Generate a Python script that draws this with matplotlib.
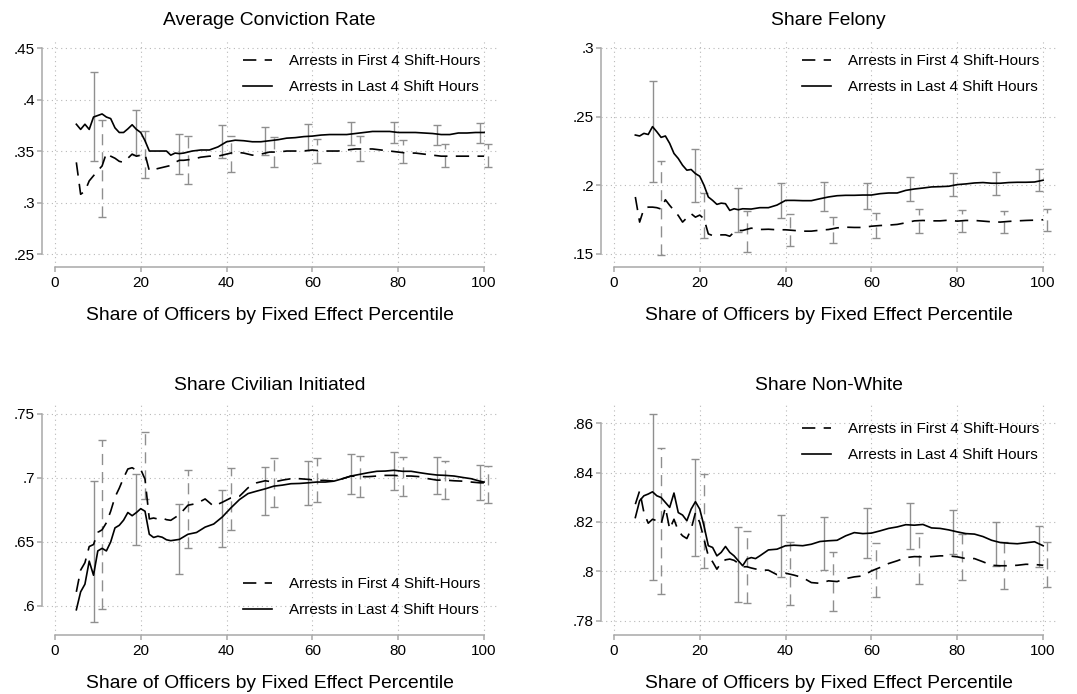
import matplotlib
matplotlib.use("Agg")
import matplotlib.pyplot as plt

plt.rcParams['font.family'] = ['Liberation Sans', 'DejaVu Sans']

# percentile grid for the running means
conv_x = list(range(5, 31)) + list(range(32, 101, 2))
fel_x = conv_x
civ_x = list(range(5, 28)) + list(range(29, 100, 2)) + [100]
nw_x = list(range(5, 35)) + list(range(36, 101, 2))

# confidence interval positions (offset so the two series don't overlap)
ci_x_last = [9, 19, 29, 39, 49, 59, 69, 79, 89, 99]
ci_x_first = [11, 21, 31, 41, 51, 61, 71, 81, 91, 101]

legend_labels = ["Arrests in First 4 Shift-Hours", "Arrests in Last 4 Shift Hours"]
xlabel = "Share of Officers by Fixed Effect Percentile"
xticks = [0, 20, 40, 60, 80, 100]

# Average Conviction Rate
conv_last = [.376, .371, .376, .371, .383, .3845, .386, .383, .3815, .3725, .368, .368, .3715,
             .3755, .371, .368, .360, .350, .350, .350, .350, .350, .346, .348, .3475, .348,
             .350, .351, .351, .354, .359, .3605, .360, .359, .359, .360, .361, .3625, .363,
             .364, .3645, .3655, .366, .366, .366, .367, .368, .369, .369, .369, .368, .368,
             .368, .3675, .367, .366, .366, .3675, .3675, .368, .368]
conv_first = [.339, .308, .311, .321, .326, .331, .3355, .348, .345, .343, .340, .339, .343,
              .347, .345, .346, .347, .331, .332, .333, .334, .335, .336, .339, .341, .341,
              .342, .344, .345, .345, .347, .349, .348, .346, .347, .349, .349, .350, .350,
              .350, .351, .350, .350, .350, .351, .352, .352, .352, .351, .350, .349, .348,
              .348, .347, .346, .345, .345, .345, .345, .345, .345]
conv_lo_last = [.340, .346, .328, .3435, .346, .351, .356, .3575, .356, .358]
conv_hi_last = [.4265, .390, .367, .375, .373, .376, .378, .3785, .3755, .3775]
conv_lo_first = [.2855, .324, .318, .330, .3345, .338, .340, .338, .3345, .3345]
conv_hi_first = [.380, .3697, .365, .365, .364, .362, .3645, .361, .3567, .3565]
conv_yticks = [.25, .3, .35, .4, .45]
conv_ylabels = [".25", ".3", ".35", ".4", ".45"]

# Share Felony
fel_last = [.2366, .2359, .2378, .237, .2427, .239, .2349, .2359, .2305, .2232, .2195, .2146,
            .211, .2115, .2085, .2066, .200, .1915, .189, .1861, .187, .1866, .1817, .1829,
            .1822, .1829,
            .1827, .1837, .1837, .1856, .189, .189, .1888, .1888, .1902, .1915, .1924, .1927,
            .1927, .1929, .1929, .1939, .1944, .1944, .1963, .1973, .198, .1988, .199, .1993,
            .2005, .201, .2017, .202, .2015, .2015, .202, .2022, .2022, .2024, .2037]
fel_first = [.1915, .1732, .183, .1841, .1841, .1837, .1827, .1895, .1854, .1817, .178, .1732,
             .1763, .1793, .1768, .1783, .1756, .1646, .1634, .1634, .1639, .1639, .1629,
             .1659, .1671, .1671,
             .1688, .1678, .168, .1676, .1676, .1671, .1666, .1666, .1673, .1678, .169, .1695,
             .1693, .1693, .1702, .1707, .171, .1715, .1727, .1741, .1744, .1741, .1741, .1746,
             .1739, .1744, .1744, .1739, .1734, .1732, .1737, .1741, .1744, .1746, .1749]
fel_lo_last = [.2024, .1878, .1663, .1763, .181, .1829, .1883, .192, .1929, .1956]
fel_hi_last = [.2756, .2261, .198, .2017, .2024, .202, .2063, .209, .2095, .2117]
fel_lo_first = [.1493, .1617, .1515, .1561, .158, .1617, .1656, .1661, .1651, .167]
fel_hi_first = [.218, .1946, .1815, .179, .1768, .1798, .1824, .1822, .181, .1827]
fel_yticks = [.15, .2, .25, .3]
fel_ylabels = [".15", ".2", ".25", ".3"]

# Share Civilian Initiated
civ_last = [.597, .611, .617, .635, .624, .643, .645, .643, .650, .661, .663, .667, .673,
            .6705, .673, .676, .674, .656, .6535, .6545, .6537, .6517, .651,
            .652, .656, .6574, .6616, .664, .6695, .6766, .6831, .6878, .6897, .6915, .6936,
            .6944, .6955, .6957, .6962, .6968, .6968, .6975, .6994, .7015, .7028, .7041, .7052,
            .7054, .706, .7052, .7052, .7041, .7031, .7023, .702, .7015, .7004, .6994, .6975,
            .6968]
civ_first = [.611, .628, .6338, .6464, .648, .6575, .6595, .665, .674, .685, .692, .700, .707,
             .708, .706, .7067, .699, .668, .6687, .6679, .6687, .6674, .6669,
             .6713, .6787, .680, .6836, .6779, .681, .6844, .6857, .6923, .6962, .6978, .6968,
             .6983, .6994, .6994, .6989, .6981, .6981, .6975, .6994, .7015, .701, .701, .7015,
             .702, .702, .7015, .7015, .701, .6994, .6983, .6983, .6978, .6975, .6968, .6962,
             .6962]
civ_lo_last = [.5874, .6477, .6246, .6464, .6708, .6792, .6873, .6905, .6878, .6826]
civ_hi_last = [.6975, .7028, .680, .6902, .7083, .713, .7185, .7204, .7164, .7104]
civ_lo_first = [.5979, .6833, .6451, .6595, .6771, .681, .6852, .6862, .6836, .6805]
civ_hi_first = [.7298, .7356, .7062, .7075, .7159, .7159, .7172, .7167, .713, .7093]
civ_yticks = [.6, .65, .7, .75]
civ_ylabels = [".6", ".65", ".7", ".75"]

# Share Non-White
nw_last = [.8218, .8286, .8306, .8313, .8322, .8306, .8299, .8279, .8259, .8317, .8238, .8228,
           .8205, .8252, .8282, .8252, .8184, .8104, .8097, .8063, .8077, .8101, .8077, .8063,
           .8043, .8023, .805, .8056, .8052, .8063,
           .8087, .809, .8104, .8106, .8104, .811, .8121, .8124, .8126, .8144, .8157, .8153,
           .8155, .8164, .8174, .818, .8189, .8187, .819, .8176, .8174, .8168, .816, .8153,
           .8151, .8141, .8126, .8117, .8114, .8112, .8116, .812, .8104]
nw_first = [.8272, .8326, .8238, .8195, .8211, .8205, .8191, .8259, .8171, .8211, .8164, .8144,
            .8133, .8171, .8238, .8198, .813, .8063, .8039, .8009, .8036, .8047, .805, .8045,
            .8033, .8019, .8019, .8014, .801, .8006,
            .8005, .7987, .7993, .7985, .7975, .7955, .7952, .7962, .7959, .7971, .7978, .7982,
            .8002, .8016, .8032, .8043, .8056, .806, .8059, .806, .8063, .8063, .8059, .8052,
            .8052, .8039, .8025, .8023, .8023, .8025, .8029, .8028, .8025]
nw_lo_last = [.7966, .8063, .7877, .7979, .8005, .8054, .809, .8072, .8023, .8016]
nw_hi_last = [.8636, .8454, .8178, .8229, .8221, .8255, .8275, .8248, .8198, .8184]
nw_lo_first = [.7907, .8012, .7871, .7866, .7842, .7898, .7951, .7965, .7928, .7938]
nw_hi_first = [.85, .8392, .8162, .812, .8077, .8114, .8155, .8151, .812, .8121]
nw_yticks = [.78, .8, .82, .84, .86]
nw_ylabels = [".78", ".8", ".82", ".84", ".86"]

AXIS_GRAY = '#a8a8a8'
CI_GRAY = '#8f8f8f'
GRID_GRAY = '#b8b8b8'
DASH = (0, (8, 5))

W, H = 1077, 694
fig = plt.figure(figsize=(W / 100, H / 100), dpi=100)


def px_axes(left, top, width, height):
    return fig.add_axes([left / W, 1 - (top + height) / H, width / W, height / H])


def draw_ci(ax, xs, lo, hi, dashed):
    mid = [(a + b) / 2 for a, b in zip(lo, hi)]
    half = [(b - a) / 2 for a, b in zip(lo, hi)]
    eb = ax.errorbar(xs, mid, yerr=half, fmt='none', ecolor=CI_GRAY, elinewidth=1.0,
                     capsize=2.8, capthick=1.0, zorder=2)
    if dashed:
        eb[2][0].set_linestyle(DASH)


def panel(ax, title, x, first, last, cis, ylim, yticks, ylabels, leg_anchor):
    lo_f, hi_f, lo_l, hi_l = cis
    draw_ci(ax, ci_x_last, lo_l, hi_l, dashed=False)
    draw_ci(ax, ci_x_first, lo_f, hi_f, dashed=True)
    ax.plot(x, first, color='black', lw=1.2, linestyle=DASH, label=legend_labels[0], zorder=3)
    ax.plot(x, last, color='black', lw=1.2, label=legend_labels[1], zorder=3)

    ax.set_xlim(-3, 103)
    ax.set_ylim(*ylim)
    ax.set_xticks(xticks)
    ax.set_xticklabels([str(t) for t in xticks])
    ax.set_yticks(yticks)
    ax.set_yticklabels(ylabels)
    ax.tick_params(axis='both', colors=AXIS_GRAY, labelcolor='black', labelsize=11,
                   length=3.6, width=1.1)
    ax.tick_params(axis='y', pad=1.5)
    ax.tick_params(axis='x', pad=3)
    for s in ('top', 'right'):
        ax.spines[s].set_visible(False)
    for s in ('left', 'bottom'):
        ax.spines[s].set_color(AXIS_GRAY)
        ax.spines[s].set_linewidth(1.1)
    ax.spines['left'].set_bounds(yticks[0], yticks[-1])
    ax.spines['bottom'].set_bounds(xticks[0], xticks[-1])
    ax.grid(True, color=GRID_GRAY, linestyle=(0, (1, 3.2)), linewidth=0.8)
    ax.set_axisbelow(True)

    ax.annotate(title, xy=(0.5, 1), xycoords='axes fraction', xytext=(0, 14),
                textcoords='offset points', ha='center', va='center', fontsize=13.9)
    ax.annotate(xlabel, xy=(0.5, 0), xycoords='axes fraction', xytext=(0, -35),
                textcoords='offset points', ha='center', va='center', fontsize=13.9)

    ax.legend(loc='upper left', bbox_to_anchor=leg_anchor, frameon=False, fontsize=11,
              borderpad=0, borderaxespad=0, handlelength=1.9, handletextpad=1.1,
              labelspacing=0.78)


ax1 = px_axes(42, 40, 455, 227)
ax2 = px_axes(601, 40, 455, 227)
ax3 = px_axes(42, 405, 455, 230)
ax4 = px_axes(601, 405, 455, 230)

panel(ax1, "Average Conviction Rate", conv_x, conv_first, conv_last,
      (conv_lo_first, conv_hi_first, conv_lo_last, conv_hi_last),
      (.2374, .4578), conv_yticks, conv_ylabels, (0.442, 0.937))
panel(ax2, "Share Felony", fel_x, fel_first, fel_last,
      (fel_lo_first, fel_hi_first, fel_lo_last, fel_hi_last),
      (.1405, .3058), fel_yticks, fel_ylabels, (0.442, 0.937))
panel(ax3, "Share Civilian Initiated", civ_x, civ_first, civ_last,
      (civ_lo_first, civ_hi_first, civ_lo_last, civ_hi_last),
      (.5773, .757), civ_yticks, civ_ylabels, (0.442, 0.25))
panel(ax4, "Share Non-White", nw_x, nw_first, nw_last,
      (nw_lo_first, nw_hi_first, nw_lo_last, nw_hi_last),
      (.7743, .8673), nw_yticks, nw_ylabels, (0.442, 0.925))

fig.savefig("out.png", dpi=100, facecolor='white')
